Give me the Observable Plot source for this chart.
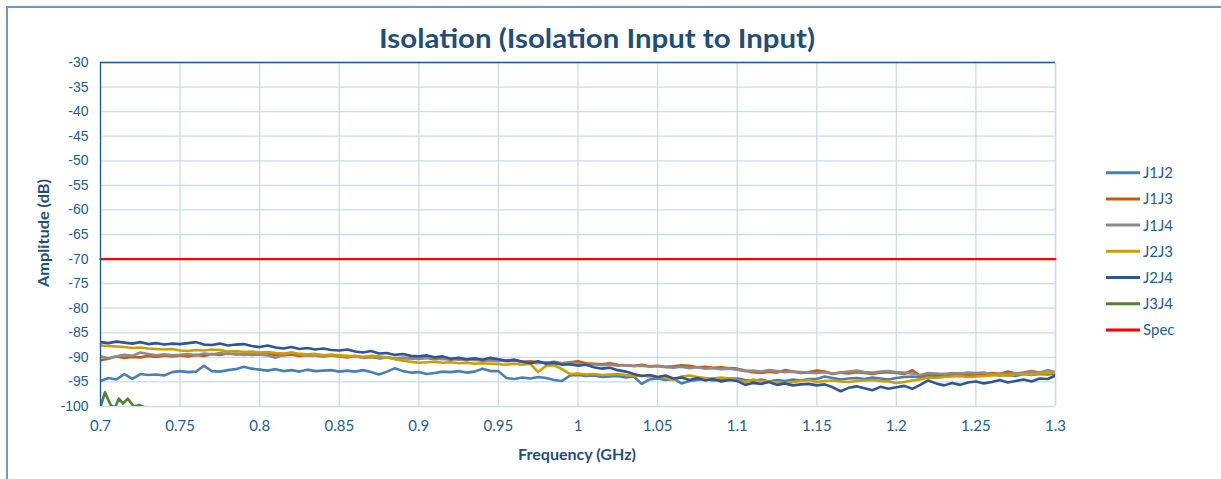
<!DOCTYPE html>
<html>
<head>
<meta charset="utf-8">
<script src="https://cdn.jsdelivr.net/npm/d3@7"></script>
<script src="https://cdn.jsdelivr.net/npm/@observablehq/plot@0.6"></script>
<style>
  html, body { margin: 0; padding: 0; background: #fff; overflow: hidden; }
  #wrap { position: relative; width: 1221px; height: 479px; }
  #frame { position: absolute; left: 6px; top: 6px; width: 1300px; height: 600px;
           border-top: 2px solid #6b98c4; border-left: 2px solid #6b98c4; box-sizing: border-box; }
  #chart { position: absolute; left: 0; top: 0; }
  #overlay { position: absolute; left: 0; top: 0; pointer-events: none; }
</style>
</head>
<body>
<div id="wrap">
  <div id="frame"></div>
  <div id="chart"></div>
  <svg id="overlay" width="1221" height="479"></svg>
</div>
<script>
// ---- data ----
const title = "Isolation (Isolation Input to Input)";
const xLabel = "Frequency (GHz)";
const yLabel = "Amplitude (dB)";
const xTicks = [0.7, 0.75, 0.8, 0.85, 0.9, 0.95, 1, 1.05, 1.1, 1.15, 1.2, 1.25, 1.3];
const yTicks = [-100, -95, -90, -85, -80, -75, -70, -65, -60, -55, -50, -45, -40, -35, -30];
const seriesNames = ["J1J2", "J1J3", "J1J4", "J2J3", "J2J4", "J3J4", "Spec"];
const seriesColors = ["#4a7fb5", "#c55a11", "#8c8c8c", "#cc9e00", "#2f5597", "#548235", "#ff0000"];

const freq = [
  0.700,0.705,0.710,0.715,0.720,0.725,0.730,0.735,0.740,0.745,
  0.750,0.755,0.760,0.765,0.770,0.775,0.780,0.785,0.790,0.795,
  0.800,0.805,0.810,0.815,0.820,0.825,0.830,0.835,0.840,0.845,
  0.850,0.855,0.860,0.865,0.870,0.875,0.880,0.885,0.890,0.895,
  0.900,0.905,0.910,0.915,0.920,0.925,0.930,0.935,0.940,0.945,
  0.950,0.955,0.960,0.965,0.970,0.975,0.980,0.985,0.990,0.995,
  1.000,1.005,1.010,1.015,1.020,1.025,1.030,1.035,1.040,1.045,
  1.050,1.055,1.060,1.065,1.070,1.075,1.080,1.085,1.090,1.095,
  1.100,1.105,1.110,1.115,1.120,1.125,1.130,1.135,1.140,1.145,
  1.150,1.155,1.160,1.165,1.170,1.175,1.180,1.185,1.190,1.195,
  1.200,1.205,1.210,1.215,1.220,1.225,1.230,1.235,1.240,1.245,
  1.250,1.255,1.260,1.265,1.270,1.275,1.280,1.285,1.290,1.295,
  1.300
];

const J1J2 = [
  -94.8,-94.2,-94.5,-93.4,-94.4,-93.4,-93.6,-93.5,-93.7,-93.0,
  -92.8,-93.0,-92.9,-91.7,-92.8,-92.9,-92.6,-92.4,-91.9,-92.3,
  -92.5,-92.7,-92.4,-92.8,-92.6,-92.9,-92.5,-92.8,-92.7,-92.6,
  -92.9,-92.7,-92.9,-92.6,-93.0,-93.5,-92.9,-92.2,-92.8,-93.1,
  -93.0,-93.4,-93.2,-92.9,-93.0,-92.8,-93.1,-92.9,-92.3,-92.8,
  -92.8,-94.2,-94.4,-94.1,-94.3,-94.0,-94.2,-94.6,-94.8,-93.7,
  -93.6,-93.8,-93.7,-94.0,-93.9,-93.8,-94.1,-93.9,-95.4,-94.5,
  -94.3,-94.6,-94.4,-95.3,-94.8,-94.6,-94.4,-94.7,-94.5,-94.3,
  -94.3,-94.6,-94.8,-94.5,-94.9,-94.6,-94.8,-94.5,-94.7,-94.4,
  -94.4,-93.9,-94.2,-94.5,-94.3,-94.2,-94.4,-94.1,-94.3,-94.5,
  -94.2,-94.0,-93.9,-94.1,-93.8,-93.7,-93.9,-93.6,-93.8,-93.5,
  -93.6,-93.8,-93.5,-93.7,-93.6,-93.8,-93.4,-93.6,-93.4,-93.5,
  -93.3
];

const J1J3 = [
  -90.6,-90.3,-89.8,-90.1,-89.9,-90.0,-89.7,-89.9,-89.6,-89.8,
  -89.6,-89.8,-89.5,-89.7,-89.3,-89.5,-89.2,-89.4,-89.3,-89.5,
  -89.4,-89.2,-89.5,-89.6,-89.4,-89.7,-89.5,-89.6,-89.8,-89.6,
  -89.8,-90.0,-89.7,-90.1,-89.9,-90.2,-90.0,-90.3,-90.1,-90.2,
  -90.3,-90.1,-90.4,-90.2,-90.5,-90.3,-90.6,-90.4,-90.7,-90.5,
  -90.6,-90.8,-90.7,-90.9,-90.8,-91.0,-91.1,-90.9,-91.2,-91.0,
  -90.8,-91.2,-91.3,-91.4,-91.2,-91.5,-91.6,-91.7,-91.5,-91.8,
  -91.7,-91.9,-91.8,-91.6,-91.7,-92.0,-91.9,-92.1,-92.0,-92.2,
  -92.3,-92.7,-93.0,-93.2,-92.9,-93.1,-92.6,-92.9,-93.2,-93.0,
  -92.7,-92.9,-93.4,-93.1,-93.3,-93.0,-93.2,-93.4,-93.1,-93.0,
  -93.2,-93.4,-92.6,-93.8,-93.3,-93.5,-93.4,-93.6,-93.3,-93.5,
  -93.4,-93.6,-93.2,-93.4,-92.9,-93.3,-93.1,-92.8,-93.2,-93.3,
  -93.1
];

const J1J4 = [
  -89.8,-90.2,-89.8,-89.5,-89.7,-89.0,-89.3,-89.6,-89.4,-89.6,
  -89.5,-89.3,-89.6,-89.2,-89.4,-89.1,-89.3,-89.2,-89.5,-89.3,
  -89.4,-89.6,-90.1,-89.5,-89.0,-89.4,-89.6,-89.5,-89.7,-89.5,
  -89.7,-89.9,-89.8,-90.0,-89.9,-90.1,-90.0,-90.2,-90.1,-90.2,
  -90.3,-90.0,-90.2,-90.4,-90.3,-90.5,-90.4,-90.6,-90.5,-90.7,
  -90.8,-90.6,-90.5,-90.9,-91.1,-91.2,-91.0,-91.3,-91.2,-91.1,
  -91.3,-91.5,-91.4,-91.6,-91.5,-91.7,-91.6,-91.8,-91.7,-91.9,
  -91.8,-92.0,-92.1,-91.9,-92.2,-92.0,-92.3,-92.2,-92.4,-92.3,
  -92.5,-92.8,-92.7,-92.9,-92.6,-92.8,-93.0,-92.9,-93.0,-93.1,
  -93.2,-93.0,-93.3,-93.1,-92.9,-92.7,-93.0,-93.1,-92.9,-92.8,
  -93.0,-93.1,-93.3,-93.6,-93.2,-93.3,-93.4,-93.2,-93.3,-93.1,
  -93.2,-93.1,-93.5,-93.3,-93.4,-93.2,-93.3,-92.9,-93.1,-92.6,
  -93.0
];

const J2J3 = [
  -87.6,-87.7,-87.8,-87.9,-88.1,-88.0,-88.2,-88.3,-88.4,-88.3,
  -88.6,-88.7,-88.5,-88.6,-88.4,-88.5,-88.8,-88.7,-88.9,-88.8,
  -89.0,-88.9,-89.1,-89.2,-89.0,-89.3,-89.4,-89.3,-89.6,-89.5,
  -89.6,-89.7,-89.8,-89.9,-89.7,-89.8,-90.0,-90.4,-90.7,-90.9,
  -91.1,-91.0,-90.9,-91.1,-91.0,-91.2,-91.1,-91.3,-91.2,-91.3,
  -91.4,-91.5,-91.3,-91.5,-91.3,-93.0,-91.7,-91.6,-92.4,-93.4,
  -93.3,-93.5,-93.4,-93.6,-93.5,-93.4,-93.6,-93.8,-93.7,-93.9,
  -94.0,-94.2,-94.6,-93.9,-93.7,-94.0,-94.2,-94.3,-94.1,-94.3,
  -94.6,-95.0,-94.5,-94.8,-94.9,-95.1,-95.3,-95.0,-94.8,-94.6,
  -95.0,-94.8,-94.7,-94.9,-95.0,-94.8,-94.7,-94.6,-94.8,-94.9,
  -95.2,-95.0,-94.7,-94.5,-94.1,-94.2,-94.0,-93.9,-93.8,-94.0,
  -93.9,-93.8,-93.7,-93.6,-93.7,-93.5,-93.4,-93.5,-93.3,-93.2,
  -93.1
];

const J2J4 = [
  -86.9,-87.1,-86.8,-87.0,-87.2,-86.9,-87.3,-87.1,-87.4,-87.2,
  -87.3,-87.1,-86.9,-87.4,-87.5,-87.2,-87.6,-87.4,-87.3,-87.7,
  -87.9,-87.6,-88.0,-88.2,-87.9,-88.3,-88.1,-88.4,-88.2,-88.5,
  -88.6,-88.4,-88.8,-89.0,-88.7,-89.2,-89.1,-89.5,-89.3,-89.7,
  -89.8,-89.6,-90.0,-89.8,-90.3,-90.1,-90.4,-90.2,-90.5,-90.1,
  -90.4,-90.7,-90.5,-90.9,-91.2,-90.8,-91.3,-91.1,-91.5,-91.4,
  -91.7,-91.5,-92.0,-92.3,-92.1,-92.6,-92.9,-93.4,-93.8,-93.6,
  -94.0,-93.7,-94.3,-94.1,-94.6,-94.2,-94.7,-94.4,-94.9,-94.6,
  -94.8,-95.6,-95.2,-95.4,-95.0,-95.6,-95.3,-95.7,-95.5,-95.4,
  -95.7,-95.5,-96.1,-96.9,-96.2,-95.9,-96.3,-96.7,-96.0,-96.4,
  -96.1,-95.8,-96.4,-95.6,-94.7,-95.3,-95.7,-95.2,-95.6,-95.1,
  -94.9,-95.3,-95.0,-94.6,-95.1,-94.8,-94.5,-94.9,-94.3,-94.4,
  -93.7
];

// J3J4 mostly lies below -100 (clipped); only the start is visible
const J3J4_freq = [0.7000, 0.7028, 0.7047, 0.7066, 0.7091, 0.7116, 0.7141, 0.7171, 0.7210, 0.7242, 0.7273, 0.7320, 0.7400, 0.7500, 0.7600];
const J3J4 = [-100.1, -97.1, -98.5, -99.8, -100.2, -98.4, -99.4, -98.4, -100.0, -99.7, -100.1, -100.8, -102.0, -103.0, -104.0];

const specFreq = [0.7, 1.3];
const specVal = [-70, -70];

// ---- build table ----
const seriesData = [J1J2, J1J3, J1J4, J2J3, J2J4];
const rows = [];
seriesData.forEach((vals, k) => {
  vals.forEach((v, i) => rows.push({ s: seriesNames[k], f: freq[i], v }));
});
J3J4.forEach((v, i) => rows.push({ s: "J3J4", f: J3J4_freq[i], v }));
const specRows = specFreq.map((f, i) => ({ s: "Spec", f, v: specVal[i] }));

const textBlue = "#245d90";
const darkBlue = "#1f4e79";
const gridColor = "#c8dcf0";

const chart = Plot.plot({
  width: 1221,
  height: 479,
  marginLeft: 100,
  marginTop: 62,
  marginRight: 166,
  marginBottom: 73,
  style: { background: "transparent", overflow: "visible" },
  x: { domain: [0.7, 1.3] },
  y: { domain: [-100, -30] },
  color: { domain: seriesNames, range: seriesColors },
  marks: [
    Plot.gridX(xTicks, { stroke: gridColor, strokeOpacity: 1, strokeWidth: 1.3 }),
    Plot.gridY(yTicks, { stroke: gridColor, strokeOpacity: 1, strokeWidth: 1.3 }),
    Plot.ruleX([1.3], { stroke: gridColor, strokeWidth: 1.3 }),
    Plot.line(rows, { x: "f", y: "v", z: "s", stroke: "s", strokeWidth: 2.6, clip: true, curve: "linear" }),
    Plot.line(specRows, { x: "f", y: "v", stroke: "s", strokeWidth: 2.3 }),
    Plot.ruleX([0.7], { stroke: "#1f5a8c", strokeWidth: 1.3 }),
    Plot.ruleY([-30], { stroke: "#1f5a8c", strokeWidth: 1.3 }),
    Plot.axisX(xTicks, { tickSize: 0, tickPadding: 14, fontSize: 15, fontFamily: "Lato", fill: textBlue, label: null,
      tickFormat: d => String(+d.toFixed(2)) }),
    Plot.axisY(yTicks, { tickSize: 0, tickPadding: 12, fontSize: 14, fontFamily: "Liberation Sans, Arial", fill: textBlue, label: null,
      tickFormat: d => String(d) })
  ]
});
document.getElementById("chart").appendChild(chart);

// ---- overlay texts and legend ----
const ns = "http://www.w3.org/2000/svg";
const ov = document.getElementById("overlay");
function addText(txt, attrs) {
  const t = document.createElementNS(ns, "text");
  for (const k in attrs) t.setAttribute(k, attrs[k]);
  t.textContent = txt;
  ov.appendChild(t);
  return t;
}
addText(title, { x: 597, y: 48, "text-anchor": "middle", "font-family": "Lato", "font-weight": "bold",
  "font-size": 27, fill: darkBlue, textLength: 436, lengthAdjust: "spacingAndGlyphs" });
addText(xLabel, { x: 577, y: 460, "text-anchor": "middle", "font-family": "Lato", "font-weight": "bold",
  "font-size": 14.5, fill: darkBlue, textLength: 118, lengthAdjust: "spacingAndGlyphs" });
addText(yLabel, { x: 0, y: 0, transform: "translate(49,233) rotate(-90)", "text-anchor": "middle", "font-family": "Lato",
  "font-weight": "bold", "font-size": 14.5, fill: darkBlue, textLength: 108, lengthAdjust: "spacingAndGlyphs" });

const legendY0 = 172.7, legendDy = 26.2;
seriesNames.forEach((name, i) => {
  const y = legendY0 + i * legendDy;
  const l = document.createElementNS(ns, "line");
  l.setAttribute("x1", 1106); l.setAttribute("x2", 1140);
  l.setAttribute("y1", y); l.setAttribute("y2", y);
  l.setAttribute("stroke", seriesColors[i]); l.setAttribute("stroke-width", 3);
  ov.appendChild(l);
  addText(name, { x: 1143, y: y + 5.5, "font-family": "Lato", "font-size": 15, fill: textBlue });
});
</script>
</body>
</html>
